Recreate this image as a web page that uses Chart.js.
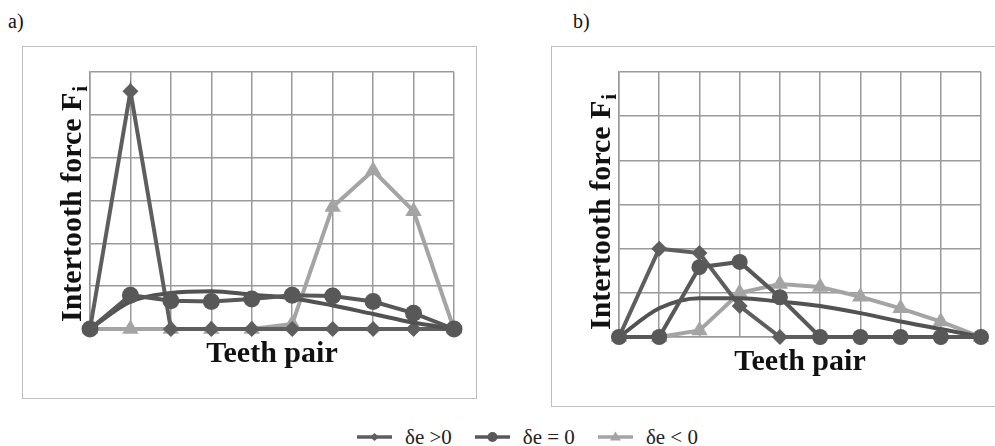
<!DOCTYPE html>
<html>
<head>
<meta charset="utf-8">
<script src="https://cdn.jsdelivr.net/npm/chart.js@4.4.1/dist/chart.umd.min.js"></script>
<style>
  html, body { margin:0; padding:0; background:#fff; }
  body { width:995px; height:446px; position:relative; overflow:hidden; }
  .lbl { position:absolute; font: 20px "Liberation Serif", "Times New Roman", "DejaVu Serif", serif; color:#111; }
  .box { position:absolute; border:1.5px solid #bdbdbd; box-sizing:border-box; }
  .wrap { position:absolute; }
  #legend { position:absolute; left:357px; top:427px; height:20px; display:flex; align-items:center; font: 21px "Liberation Serif", "Times New Roman", "DejaVu Serif", serif; color:#222; white-space:nowrap; }
  #legend .it { display:flex; align-items:center; margin-right:23px; }
  #legend svg { margin-right:13px; }
</style>
</head>
<body>
<div class="lbl" style="left:8px; top:10px;">a)</div>
<div class="lbl" style="left:573px; top:10px;">b)</div>
<div class="box" style="left:22px; top:46px; width:455px; height:353px;"></div>
<div class="box" style="left:551px; top:46px; width:460px; height:361px;"></div>
<div class="wrap" style="left:0; top:0;"><canvas id="ca" width="490" height="410"></canvas></div>
<div class="wrap" style="left:520px; top:0;"><canvas id="cb" width="475" height="410"></canvas></div>
<div id="legend"></div>
<script>
// ---- data ----
const categories = ['1','2','3','4','5','6','7','8','9','10'];
const seriesNames = ['δe >0', 'δe = 0', 'δe < 0'];
const aPos    = [0, 5.55, 0, 0, 0, 0, 0, 0, 0, 0];
const aZero   = [0, 0.79, 0.66, 0.64, 0.70, 0.79, 0.77, 0.64, 0.37, 0];
const aNeg    = [0, 0, 0, 0, 0, 0.12, 2.85, 3.7, 2.75, 0];
const aSmooth = [0, 0.64, 0.84, 0.88, 0.80, 0.72, 0.55, 0.35, 0.15, 0];
const bPos    = [0, 2.0, 1.9, 0.7, 0, 0, 0, 0, 0, 0];
const bZero   = [0, 0, 1.58, 1.7, 0.9, 0, 0, 0, 0, 0];
const bNeg    = [0, 0, 0.15, 1.0, 1.2, 1.13, 0.91, 0.65, 0.35, 0];
const bSmooth = [0, 0.65, 0.88, 0.88, 0.80, 0.70, 0.54, 0.35, 0.18, 0];
const yMax = 6;
const yTitle = 'Intertooth force F';
const yTitleSub = 'i';
const xTitle = 'Teeth pair';

const COL_POS = '#5e5e5e', COL_ZERO = '#585858', COL_NEG = '#a4a4a4', COL_SMOOTH = '#525252';
const GRID = '#9a9a9a';

function datasets(pos, zero, neg, smooth, circR) {
  return [
    { label: seriesNames[1], data: zero, borderColor: COL_ZERO, backgroundColor: COL_ZERO, borderWidth: 4,
      pointStyle: 'circle', pointRadius: circR, pointBorderWidth: 0, order: 0, clip: false, tension: 0 },
    { label: 'ref', data: smooth, borderColor: COL_SMOOTH, backgroundColor: COL_SMOOTH, borderWidth: 4,
      pointRadius: 0, order: 1, clip: false, cubicInterpolationMode: 'monotone' },
    { label: seriesNames[0], data: pos, borderColor: COL_POS, backgroundColor: COL_POS, borderWidth: 4,
      pointStyle: 'rectRot', pointRadius: 8, pointBorderWidth: 0, order: 2, clip: false, tension: 0 },
    { label: seriesNames[2], data: neg, borderColor: COL_NEG, backgroundColor: COL_NEG, borderWidth: 4,
      pointStyle: 'triangle', pointRadius: 9.5, pointBorderWidth: 0, order: 3, clip: false, tension: 0 }
  ];
}

const titlesPlugin = {
  id: 'titles',
  afterDraw(chart) {
    const ca = chart.chartArea, ctx = chart.ctx;
    ctx.save();
    ctx.fillStyle = '#111';
    ctx.font = 'bold 30px "Liberation Serif", serif';
    ctx.textAlign = 'center';
    ctx.textBaseline = 'alphabetic';
    ctx.fillText(xTitle, (ca.left + ca.right) / 2, ca.bottom + 33);
    ctx.translate(ca.left - 9, ca.bottom - 7);
    ctx.rotate(-Math.PI / 2);
    ctx.textAlign = 'left';
    ctx.font = 'bold 30px "Liberation Serif", serif';
    ctx.fillText(yTitle, 0, 0);
    const w = ctx.measureText(yTitle).width;
    ctx.font = 'bold 21px "Liberation Serif", serif';
    ctx.fillText(yTitleSub, w + 1, 6);
    ctx.restore();
  }
};

function makeChart(id, pos, zero, neg, smooth, pad, circR) {
  return new Chart(document.getElementById(id), {
    type: 'line',
    data: { labels: categories, datasets: datasets(pos, zero, neg, smooth, circR) },
    options: {
      responsive: false, animation: false,
      layout: { padding: pad },
      plugins: { legend: { display: false }, tooltip: { enabled: false } },
      scales: {
        x: { offset: false, ticks: { display: false },
             grid: { color: GRID, lineWidth: 1.5, drawTicks: false },
             border: { color: GRID, width: 1.5 } },
        y: { min: 0, max: yMax, ticks: { display: false, stepSize: 1 },
             grid: { color: GRID, lineWidth: 1.5, drawTicks: false },
             border: { color: GRID, width: 1.5 } }
      }
    },
    plugins: [titlesPlugin]
  });
}

makeChart('ca', aPos, aZero, aNeg, aSmooth, { left: 90, top: 72, right: 36, bottom: 81 }, 8.5);
makeChart('cb', bPos, bZero, bNeg, bSmooth, { left: 99, top: 72, right: 14, bottom: 73 }, 8);

// ---- legend (HTML) ----
const legendDefs = [
  { name: seriesNames[0], color: COL_POS, shape: 'diamond' },
  { name: seriesNames[1], color: COL_ZERO, shape: 'circle' },
  { name: seriesNames[2], color: COL_NEG, shape: 'triangle' }
];
const leg = document.getElementById('legend');
legendDefs.forEach(d => {
  let mark = '';
  if (d.shape === 'diamond') mark = `<polygon points="17.5,6 22,10 17.5,14 13,10" fill="${d.color}"/>`;
  if (d.shape === 'circle') mark = `<circle cx="17.5" cy="10" r="5" fill="${d.color}"/>`;
  if (d.shape === 'triangle') mark = `<polygon points="17.5,4.5 23,13.5 12,13.5" fill="${d.color}"/>`;
  const it = document.createElement('div');
  it.className = 'it';
  it.innerHTML = `<svg width="35" height="20"><line x1="0" y1="10" x2="35" y2="10" stroke="${d.color}" stroke-width="3.5"/>${mark}</svg><span>${d.name}</span>`;
  leg.appendChild(it);
});
</script>
</body>
</html>
